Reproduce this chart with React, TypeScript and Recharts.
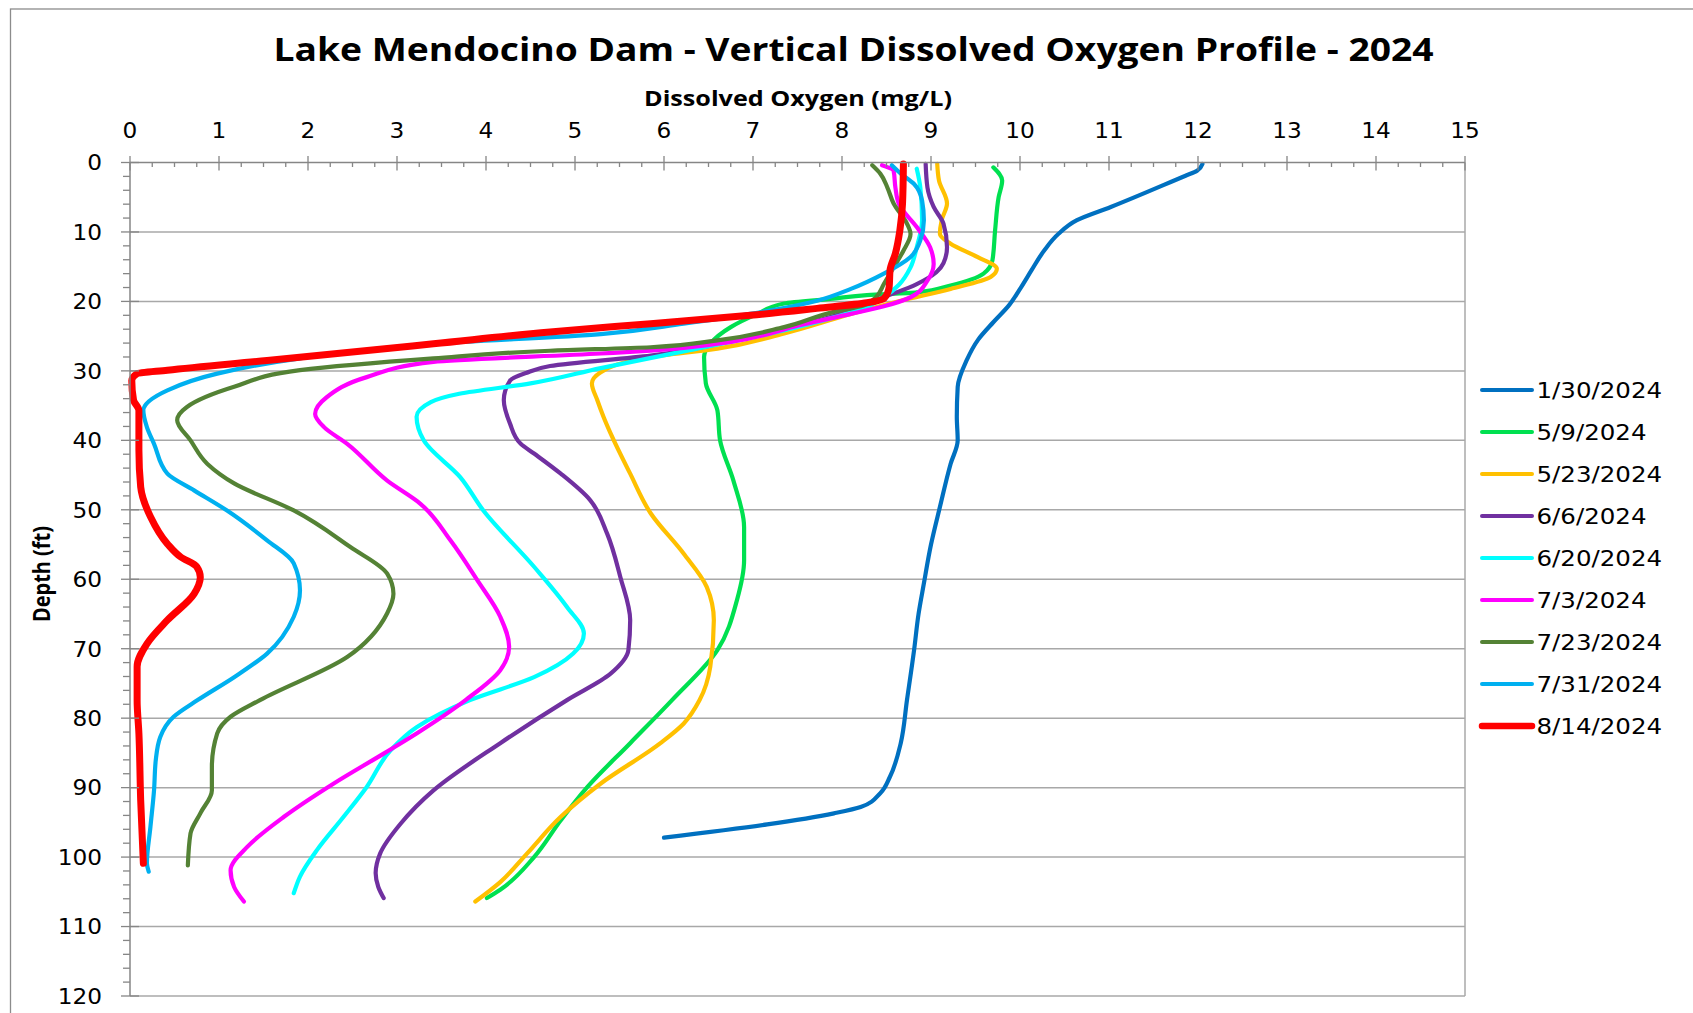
import React from 'react';
import { LineChart, Line, XAxis, YAxis, ReferenceLine } from 'recharts';

const W = 1693;
const H = 1013;

// ---------- text ----------
const chartTitle = 'Lake Mendocino Dam - Vertical Dissolved Oxygen Profile - 2024';
const xAxisTitle = 'Dissolved Oxygen (mg/L)';
const yAxisTitle = 'Depth (ft)';

// ---------- ticks ----------
const xTickLabels = [0, 1, 2, 3, 4, 5, 6, 7, 8, 9, 10, 11, 12, 13, 14, 15];
const yTickLabels = [0, 10, 20, 30, 40, 50, 60, 70, 80, 90, 100, 110, 120];

// ---------- series ----------
const seriesNames = ['1/30/2024', '5/9/2024', '5/23/2024', '6/6/2024', '6/20/2024', '7/3/2024', '7/23/2024', '7/31/2024', '8/14/2024'];
const seriesColors = ['#0070C0', '#00E050', '#FFC000', '#7030A0', '#00FFFF', '#FF00FF', '#548235', '#00B0F0', '#FF0000'];
const seriesWidths = [4.2, 4.2, 4.2, 4.2, 4.2, 4.2, 4.2, 4.2, 7];

// [depth ft, dissolved oxygen mg/L]
const s0130: [number, number][] = [
  [0.2, 12.05], [1.2, 11.99], [1.9, 11.86], [6.4, 11.02], [8.3, 10.64], [10.3, 10.43], [12.7, 10.27],
  [15.5, 10.13], [18, 10.01], [20.5, 9.88], [23, 9.7], [25.5, 9.53], [28.5, 9.4], [32.3, 9.3],
  [36.6, 9.29], [40, 9.3], [43.4, 9.22], [49.6, 9.1], [55, 9.0], [60.6, 8.92], [65, 8.86], [70.2, 8.81],
  [77.4, 8.73], [83.6, 8.66], [88.4, 8.54], [90.8, 8.43], [92.8, 8.21], [93.7, 7.91], [95.3, 7.16], [97.2, 6.0],
];
const s0509: [number, number][] = [
  [0.7, 9.7], [2.6, 9.8], [5, 9.76], [9.8, 9.72], [14.1, 9.69], [16, 9.59], [17.7, 9.22], [18.7, 8.84],
  [19.1, 8.28], [19.6, 7.9], [20.3, 7.35], [21.8, 7.05], [23.7, 6.75], [26.1, 6.52], [28, 6.45], [31.8, 6.47],
  [35.7, 6.6], [40, 6.63], [45.8, 6.78], [52.5, 6.9], [57.3, 6.9], [63, 6.82], [70.2, 6.6], [77.4, 6.09],
  [83.6, 5.62], [89.9, 5.14], [94.7, 4.84], [100, 4.54], [104.7, 4.16], [105.9, 4.01],
];
const s0523: [number, number][] = [
  [0.2, 9.07], [2.6, 9.09], [5.9, 9.18], [8.3, 9.12], [10.3, 9.1], [11.7, 9.22], [13.6, 9.52], [15.3, 9.74],
  [16.5, 9.67], [18.2, 9.22], [19.9, 8.66], [21.8, 8.1], [24.6, 7.35], [26.8, 6.6], [28, 5.85], [30.2, 5.29],
  [31.8, 5.19], [34.2, 5.25], [36.6, 5.32], [39, 5.4], [44.8, 5.62], [50.5, 5.85], [56.3, 6.22], [61.1, 6.48],
  [65.9, 6.56], [72.6, 6.52], [77.4, 6.4], [80.8, 6.22], [83.6, 5.96], [89.4, 5.29], [94.2, 4.84], [99.5, 4.46],
  [103.6, 4.16], [106.4, 3.88],
];
const s0606: [number, number][] = [
  [0.2, 8.94], [3.6, 8.96], [6.4, 9.03], [8.8, 9.14], [12.2, 9.18], [14.5, 9.14], [15.8, 9.06], [17.5, 8.84],
  [19.4, 8.47], [21.3, 8.1], [25.1, 6.97], [27.8, 5.85], [29.3, 4.72], [30.3, 4.45], [31.4, 4.27], [34.2, 4.2],
  [37.6, 4.27], [40.5, 4.39], [41.9, 4.54], [44.8, 4.84], [48.6, 5.17], [53.4, 5.36], [59.7, 5.51], [65.9, 5.62],
  [70.2, 5.6], [73.6, 5.4], [77.4, 4.91], [83.6, 4.16], [90.4, 3.41], [95.2, 3.04], [99.5, 2.81], [102.3, 2.76],
  [104.3, 2.79], [105.9, 2.85],
];
const s0620: [number, number][] = [
  [0.9, 8.84], [3.6, 8.88], [8.3, 8.9], [12.2, 8.84], [15.1, 8.77], [17.6, 8.64], [19.4, 8.47], [20.8, 8.28],
  [22.3, 7.91], [24.6, 7.2], [27.2, 6.22], [29.6, 5.29], [31.8, 4.5], [33.3, 3.7], [34.5, 3.38], [36.6, 3.22],
  [40, 3.3], [45.3, 3.71], [50.1, 3.97], [58.2, 4.54], [64, 4.91], [67.8, 5.1], [70.7, 4.98], [74.1, 4.54],
  [77.4, 3.82], [81.3, 3.22], [84.6, 2.93], [89.9, 2.66], [94.2, 2.4], [99, 2.1], [102.8, 1.91], [105.2, 1.84],
];
const s0703: [number, number][] = [
  [0.4, 8.45], [1.2, 8.58], [3.6, 8.6], [6, 8.64], [9.3, 8.84], [12.2, 8.99], [14.6, 9.03], [17, 8.96],
  [19.4, 8.77], [20.7, 8.47], [21.8, 8.1], [23.5, 7.5], [25.3, 6.97], [26.1, 6.6], [27.1, 5.85], [27.5, 5.29],
  [28.7, 3.41], [30.9, 2.66], [33.8, 2.21], [36.2, 2.08], [38.1, 2.18], [40.5, 2.44], [45.8, 2.89], [49.1, 3.26],
  [54.4, 3.6], [60.1, 3.9], [65.4, 4.16], [69.7, 4.26], [73.1, 4.16], [77.4, 3.77], [82.2, 3.22], [85.1, 2.85],
  [89.4, 2.29], [94.2, 1.73], [98.5, 1.32], [101.9, 1.13], [104.3, 1.17], [106.4, 1.28],
];
const s0723: [number, number][] = [
  [0.4, 8.34], [1.6, 8.43], [3.6, 8.51], [5.9, 8.58], [8.8, 8.73], [10.3, 8.77], [12.7, 8.69], [15.1, 8.58],
  [17.5, 8.47], [19.4, 8.38], [20.6, 8.24], [21.5, 7.91], [23.7, 7.35], [25.6, 6.6], [26.6, 5.85], [27.1, 4.72],
  [28.2, 3.41], [29.9, 1.91], [32.3, 1.17], [35.2, 0.64], [37.1, 0.53], [40, 0.68], [43.4, 0.87], [46.2, 1.17],
  [50.1, 1.84], [55.4, 2.48], [59.2, 2.89], [62.1, 2.96], [64.9, 2.89], [71.2, 2.44], [77.4, 1.46], [79.8, 1.13],
  [82.2, 0.98], [87, 0.92], [90.4, 0.92], [93.7, 0.79], [96.6, 0.68], [101.2, 0.65],
];
const s0731: [number, number][] = [
  [0.4, 8.56], [1.6, 8.66], [3.1, 8.81], [5.5, 8.9], [8.3, 8.92], [11.2, 8.88], [13.6, 8.77], [16, 8.47],
  [18.2, 8.1], [19.9, 7.72], [21.8, 6.97], [23.2, 6.22], [24.7, 5.29], [26.1, 3.41], [28.2, 1.91], [30.4, 0.98],
  [32.8, 0.42], [35.7, 0.15], [38.1, 0.19], [40.5, 0.27], [44.8, 0.42], [47.2, 0.72], [50.1, 1.09], [54.4, 1.54],
  [57.7, 1.84], [61.6, 1.91], [65.4, 1.84], [70.7, 1.54], [74.1, 1.17], [77.4, 0.76], [79.8, 0.49], [82.7, 0.34],
  [86, 0.29], [90.4, 0.27], [95.6, 0.23], [100.9, 0.19], [102.1, 0.21],
];
const s0814: [number, number][] = [
  [0.2, 8.69], [5.9, 8.68], [9.8, 8.65], [13.1, 8.6], [15.5, 8.54], [17.9, 8.53], [19.6, 8.47], [20.2, 8.28],
  [21, 7.72], [22, 6.97], [23.2, 5.85], [24.4, 4.72], [26.1, 3.41], [28.5, 1.54], [29.9, 0.42], [30.4, 0.08],
  [31.4, 0.02], [34.2, 0.04], [35.7, 0.1], [41.4, 0.1], [46.7, 0.12], [51, 0.23], [54.9, 0.42], [56.8, 0.57],
  [58.2, 0.75], [59.7, 0.79], [62.1, 0.72], [65.9, 0.42], [69.3, 0.19], [72.6, 0.08], [77.4, 0.08], [82.2, 0.1],
  [91.8, 0.12], [100.9, 0.15],
];

const seriesData = [s0130, s0509, s0523, s0606, s0620, s0703, s0723, s0731, s0814];

const series = seriesNames.map((name, i) => ({
  name,
  color: seriesColors[i],
  width: seriesWidths[i],
  data: seriesData[i].map(([depth, ox]) => ({ x: ox, y: depth })),
}));

// minor tick positions (axis decoration)
const xTicksAll: number[] = [];
for (let i = 0; i <= 60; i++) xTicksAll.push(i / 4);
const yTicksAll: number[] = [];
for (let i = 0; i <= 60; i++) yTicksAll.push(i * 2);

const AXIS_COLOR = '#868686';
const GRID_COLOR = '#A8A8A8';
const TICK_FONT = 'DejaVu Sans';

function XTick(props: any) {
  const { x, y, payload } = props;
  const v = payload.value as number;
  const major = xTickLabels.some((t) => Math.abs(t - v) < 1e-6);
  return (
    <g>
      <line x1={x} x2={x} y1={major ? y - 6.5 : y} y2={major ? y + 8 : y + 4.5} stroke={AXIS_COLOR} strokeWidth={1.3} />
      {major && (
        <text
          transform={`translate(${x},${y - 24.5}) scale(1.08,1)`}
          textAnchor="middle"
          fontFamily={TICK_FONT}
          fontSize={21.5}
          fill="#000"
        >
          {v}
        </text>
      )}
    </g>
  );
}

function YTick(props: any) {
  const { x, y, payload } = props;
  const v = payload.value as number;
  const major = yTickLabels.includes(v);
  return (
    <g>
      <line x1={major ? x - 9 : x - 7} x2={major ? x + 9 : x} y1={y} y2={y} stroke={AXIS_COLOR} strokeWidth={1.3} />
      {major && (
        <text
          transform={`translate(${x - 28},${y + 7.8}) scale(1.08,1)`}
          textAnchor="end"
          fontFamily={TICK_FONT}
          fontSize={21.5}
          fill="#000"
        >
          {v}
        </text>
      )}
    </g>
  );
}

export default function App() {
  return (
    <div style={{ position: 'absolute', left: 0, top: 0, width: W, height: H, overflow: 'hidden', background: '#fff' }}>
      <LineChart width={W} height={H} margin={{ top: 122.5, right: 228, bottom: 17, left: 70 }}>
        <XAxis
          type="number"
          dataKey="x"
          orientation="top"
          domain={[0, 15]}
          ticks={xTicksAll}
          interval={0}
          height={40}
          tickSize={0}
          tickMargin={0}
          tickLine={false}
          axisLine={{ stroke: AXIS_COLOR, strokeWidth: 1.5 }}
          tick={(p: any) => <XTick {...p} />}
        />
        <YAxis
          type="number"
          domain={[0, 120]}
          reversed
          ticks={yTicksAll}
          interval={0}
          width={60}
          tickSize={0}
          tickMargin={0}
          tickLine={false}
          axisLine={{ stroke: AXIS_COLOR, strokeWidth: 1.5 }}
          tick={(p: any) => <YTick {...p} />}
        />
        {yTickLabels
          .filter((v) => v > 0)
          .map((v) => (
            <ReferenceLine key={`g${v}`} y={v} stroke={GRID_COLOR} strokeWidth={1.5} />
          ))}
        <ReferenceLine x={15} stroke={GRID_COLOR} strokeWidth={1.5} />
        {series.map((s) => (
          <Line
            key={s.name}
            data={s.data}
            dataKey="y"
            name={s.name}
            type="monotoneY"
            stroke={s.color}
            strokeWidth={s.width}
            dot={false}
            activeDot={false}
            isAnimationActive={false}
            strokeLinecap="round"
            strokeLinejoin="round"
          />
        ))}
      </LineChart>
      <svg width={W} height={H} style={{ position: 'absolute', left: 0, top: 0, pointerEvents: 'none' }}>
        <rect x={10.5} y={9} width={W + 50} height={H + 50} fill="none" stroke="#8C8C8C" strokeWidth={1.3} />
        <text
          x={273.5}
          y={60.5}
          fontFamily="Open Sans"
          fontWeight={700}
          fontSize={32}
          textLength={1160}
          lengthAdjust="spacingAndGlyphs"
          fill="#000"
        >
          {chartTitle}
        </text>
        <text
          x={644}
          y={106}
          fontFamily="Open Sans"
          fontWeight={700}
          fontSize={22}
          textLength={308}
          lengthAdjust="spacingAndGlyphs"
          fill="#000"
        >
          {xAxisTitle}
        </text>
        <text
          transform="translate(50,622) rotate(-90)"
          fontFamily="Open Sans"
          fontWeight={700}
          fontSize={23}
          textLength={96}
          lengthAdjust="spacingAndGlyphs"
          fill="#000"
        >
          {yAxisTitle}
        </text>
        {series.map((s, i) => {
          const cy = 390 + 42 * i;
          return (
            <g key={`lg${s.name}`}>
              <line x1={1482} x2={1532} y1={cy} y2={cy} stroke={s.color} strokeWidth={i === 8 ? 6.5 : 4} strokeLinecap="round" />
              <text transform={`translate(1536.5,${cy + 7.8}) scale(1.14,1)`} fontFamily={TICK_FONT} fontSize={21.5} fill="#000">
                {s.name}
              </text>
            </g>
          );
        })}
      </svg>
    </div>
  );
}
